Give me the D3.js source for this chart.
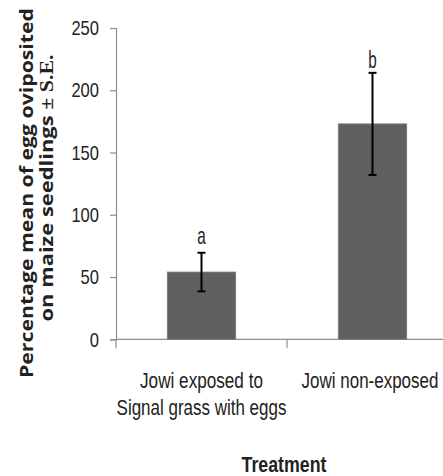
<!DOCTYPE html>
<html>
<head>
<meta charset="utf-8">
<script src="https://cdn.jsdelivr.net/npm/d3@7"></script>
<style>
  html, body { margin: 0; padding: 0; background: #fff; }
  svg { display: block; }
</style>
</head>
<body>
<svg id="chart" width="443" height="476"></svg>
<script>
// Oviposition data per treatment
const categories = ["Jowi  exposed to\nSignal grass with eggs", "Jowi  non-exposed"];
const means = [54, 173];
const stdErrors = [15.5, 41];
const letters = ["a", "b"];
const yTicks = [0, 50, 100, 150, 200, 250];

const svg = d3.select("#chart");
const axisColor = "#8f8f8f";
const textColor = "#222";
const sans = "'Liberation Sans', Arial, sans-serif";
const digitW = 9.2; // narrow digit advance
const letterGap = [9, 5]; // space between error cap and its letter

// Draws a horizontally condensed text centred at (cx, y) with the given width
function narrowText(parent, str, cxPos, yPos, width, size, weight) {
  const g = parent.append("g");
  const t = g.append("text")
    .attr("text-anchor", "middle")
    .attr("font-family", sans).attr("font-size", size)
    .attr("font-weight", weight || "normal").attr("fill", textColor)
    .text(str);
  const natural = t.node().getComputedTextLength();
  g.attr("transform", `translate(${cxPos},${yPos}) scale(${width / natural},1)`);
  return t;
}

const x = d3.scaleBand().domain(d3.range(categories.length)).range([116, 458]).padding(0);
const y = d3.scaleLinear().domain([0, 250]).range([339.3, 28]);
const barW = x.bandwidth() * 0.4;

// Y axis
const yAxis = svg.append("g").attr("transform", "translate(116,0)")
  .call(d3.axisLeft(y).tickValues(yTicks).tickSize(6).tickPadding(11).tickFormat(d3.format("d")));
yAxis.select(".domain").attr("stroke", axisColor).attr("stroke-width", 1.2);
yAxis.selectAll(".tick line").attr("stroke", axisColor).attr("stroke-width", 1.2);
yAxis.selectAll(".tick text")
  .attr("font-family", sans).attr("font-size", 21).attr("fill", textColor)
  .attr("textLength", d => String(d).length * digitW).attr("lengthAdjust", "spacingAndGlyphs");

// X axis with ticks between categories
const xAxisY = y(0);
svg.append("line").attr("x1", 116).attr("x2", 458).attr("y1", xAxisY).attr("y2", xAxisY)
  .attr("stroke", axisColor).attr("stroke-width", 1.2);
svg.selectAll("line.xtick").data(d3.range(categories.length + 1)).join("line")
  .attr("class", "xtick")
  .attr("x1", i => 116 + i * x.step()).attr("x2", i => 116 + i * x.step())
  .attr("y1", xAxisY).attr("y2", xAxisY + 9)
  .attr("stroke", axisColor).attr("stroke-width", 1.2);

// Bars
const idx = d3.range(categories.length);
svg.selectAll("rect.bar").data(idx).join("rect")
  .attr("class", "bar")
  .attr("x", i => x(i) + (x.bandwidth() - barW) / 2)
  .attr("width", barW)
  .attr("y", i => y(means[i]))
  .attr("height", i => y(0) - y(means[i]))
  .attr("fill", "#606060")
  .attr("stroke", "#7a7a7a").attr("stroke-width", 0.8);

// Error bars
const cx = i => x(i) + x.bandwidth() / 2;
const eb = svg.append("g").attr("stroke", "#000").attr("stroke-width", 2);
idx.forEach(i => {
  const top = y(means[i] + stdErrors[i]), bot = y(means[i] - stdErrors[i]);
  eb.append("line").attr("x1", cx(i)).attr("x2", cx(i)).attr("y1", top).attr("y2", bot);
  eb.append("line").attr("x1", cx(i) - 4).attr("x2", cx(i) + 4).attr("y1", top).attr("y2", top);
  eb.append("line").attr("x1", cx(i) - 4).attr("x2", cx(i) + 4).attr("y1", bot).attr("y2", bot);
});

// Significance letters
idx.forEach(i => narrowText(svg, letters[i], cx(i), y(means[i] + stdErrors[i]) - letterGap[i], 8.5, 24));

// Category labels (condensed to the narrow label widths)
const labelWidths = [[123, 170], [137]];
const labelCenters = [cx(0), cx(1) - 2.5];
idx.forEach(i => {
  categories[i].split("\n").forEach((ln, k) => {
    narrowText(svg, ln, labelCenters[i], 388 + k * 26.5, labelWidths[i][k], 21.5);
  });
});

// X axis title
narrowText(svg, "Treatment", 284, 472, 85, 22, "bold");

// Y axis title (two lines, rotated)
svg.append("text")
  .attr("transform", "translate(33,193) rotate(-90)")
  .attr("text-anchor", "middle")
  .attr("font-family", "'Open Sans', 'DejaVu Sans', sans-serif")
  .attr("font-size", 18).attr("font-weight", "bold").attr("fill", textColor)
  .attr("textLength", 370).attr("lengthAdjust", "spacingAndGlyphs")
  .text("Percentage  mean of egg oviposited");

const yt2 = svg.append("text")
  .attr("transform", "translate(53,188) rotate(-90)")
  .attr("text-anchor", "middle")
  .attr("font-family", "'Open Sans', 'DejaVu Sans', sans-serif")
  .attr("font-size", 18).attr("font-weight", "bold").attr("fill", textColor)
  .attr("textLength", 267).attr("lengthAdjust", "spacingAndGlyphs");
yt2.append("tspan").text("on maize seedlings ");
yt2.append("tspan").attr("font-family", "'Liberation Serif', 'DejaVu Serif', serif").text("± S.E.");
</script>
</body>
</html>
